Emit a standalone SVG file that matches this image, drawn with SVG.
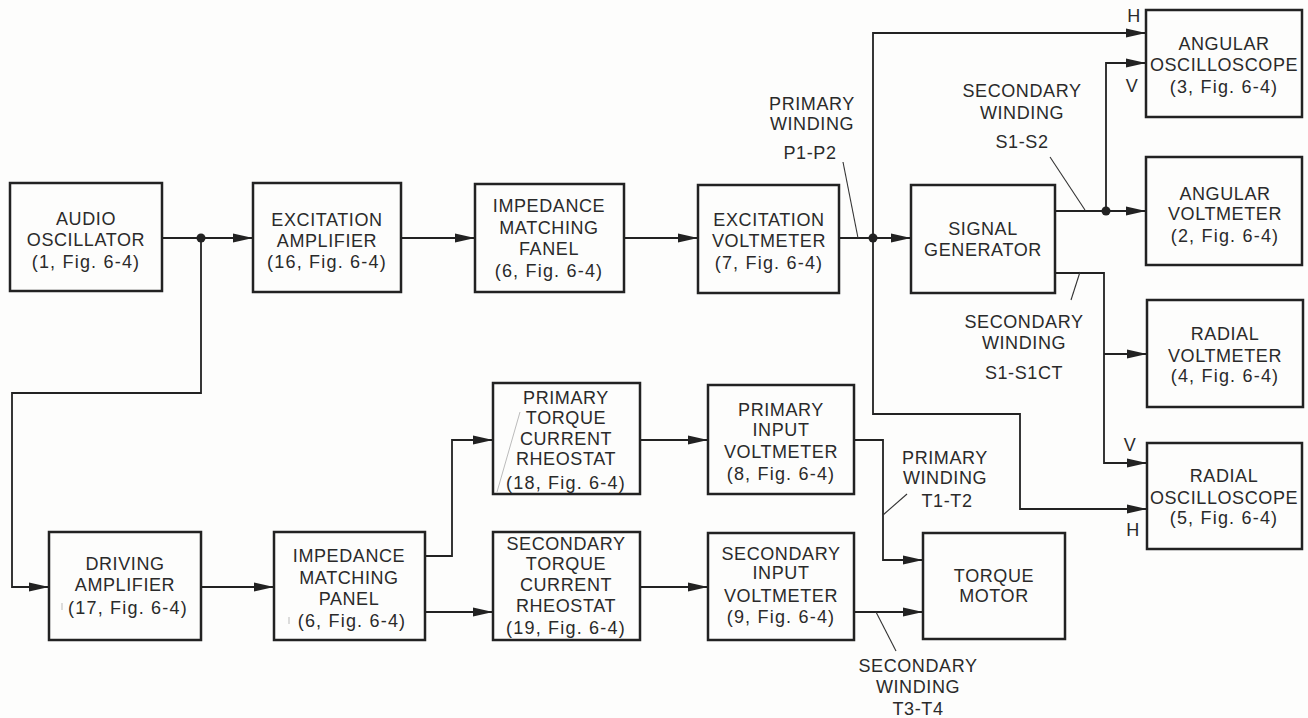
<svg xmlns="http://www.w3.org/2000/svg" width="1308" height="718" viewBox="0 0 1308 718">
<style>
.box{fill:none;stroke:#222;stroke-width:2.5}
.ln{fill:none;stroke:#222;stroke-width:1.8}
.ld{fill:none;stroke:#333;stroke-width:1.1}
.fa{fill:none;stroke:#bbb;stroke-width:1}
text{font-family:"Liberation Sans",Arial,sans-serif;font-size:18px;fill:#2a2a2a;text-anchor:middle;letter-spacing:0.6px}
text.p{letter-spacing:1.2px}
.dot{fill:#222}
</style>
<defs>
<marker id="ar" markerUnits="userSpaceOnUse" markerWidth="22" markerHeight="12" refX="20" refY="5" orient="auto">
<path d="M0,0.5 L20,5 L0,9.5 z" fill="#222"/>
</marker>
</defs>
<rect width="1308" height="718" fill="#fdfdfc"/>

<g id="connectors">
<path class="ln" d="M162,238 H253" marker-end="url(#ar)"/>
<path class="ln" d="M201,238 V393 H12 V587 H49" marker-end="url(#ar)"/>
<path class="ln" d="M401,238 H475" marker-end="url(#ar)"/>
<path class="ln" d="M624,238 H698" marker-end="url(#ar)"/>
<path class="ln" d="M839,238 H911" marker-end="url(#ar)"/>
<path class="ln" d="M873,238 V33 H1146" marker-end="url(#ar)"/>
<path class="ln" d="M873,238 V414 H1020 V509 H1147" marker-end="url(#ar)"/>
<path class="ln" d="M1055,211 H1146" marker-end="url(#ar)"/>
<path class="ln" d="M1106,211 V63 H1146" marker-end="url(#ar)"/>
<path class="ln" d="M1055,273 H1104 V463 H1147" marker-end="url(#ar)"/>
<path class="ln" d="M1104,354 H1147" marker-end="url(#ar)"/>
<path class="ln" d="M201,587 H274" marker-end="url(#ar)"/>
<path class="ln" d="M425,556 H452 V440 H493" marker-end="url(#ar)"/>
<path class="ln" d="M425,612 H493" marker-end="url(#ar)"/>
<path class="ln" d="M640,440 H708" marker-end="url(#ar)"/>
<path class="ln" d="M640,587 H708" marker-end="url(#ar)"/>
<path class="ln" d="M854,440 H883 V560 H923" marker-end="url(#ar)"/>
<path class="ln" d="M854,612 H923" marker-end="url(#ar)"/>
<circle class="dot" cx="201" cy="238" r="4.5"/>
<circle class="dot" cx="873" cy="238" r="4.5"/>
<circle class="dot" cx="1106" cy="211" r="4.5"/>
<path class="ld" d="M843,162 L858,238"/>
<path class="ld" d="M1050,157 L1085,210"/>
<path class="ld" d="M1071,300 L1080,272"/>
<path class="ld" d="M907,494 L883,515"/>
<path class="ld" d="M876,612 L896,651"/>
</g>

<g id="labels">
<text x="812" y="110">PRIMARY</text>
<text x="812" y="130">WINDING</text>
<text x="810" y="159">P1-P2</text>
<text x="1022" y="97">SECONDARY</text>
<text x="1022" y="119">WINDING</text>
<text x="1022" y="148">S1-S2</text>
<text x="1024" y="328">SECONDARY</text>
<text x="1024" y="349">WINDING</text>
<text x="1024" y="379">S1-S1CT</text>
<text x="945" y="464">PRIMARY</text>
<text x="945" y="484">WINDING</text>
<text x="947" y="507">T1-T2</text>
<text x="918" y="672">SECONDARY</text>
<text x="918" y="693">WINDING</text>
<text x="918" y="715">T3-T4</text>
<text x="1134" y="22">H</text>
<text x="1132" y="92">V</text>
<text x="1130" y="451">V</text>
<text x="1133" y="536">H</text>
</g>

<g id="audio-oscillator">
<rect class="box" x="10" y="183" width="152" height="108"/>
<text x="86" y="225">AUDIO</text>
<text x="86" y="246">OSCILLATOR</text>
<text class="p" x="86" y="268">(1, Fig. 6-4)</text>
</g>
<g id="excitation-amplifier">
<rect class="box" x="253" y="183" width="148" height="109"/>
<text x="327" y="226">EXCITATION</text>
<text x="327" y="247">AMPLIFIER</text>
<text class="p" x="327" y="268">(16, Fig. 6-4)</text>
</g>
<g id="impedance-matching-fanel">
<rect class="box" x="475" y="184" width="149" height="108"/>
<text x="549" y="212">IMPEDANCE</text>
<text x="549" y="234">MATCHING</text>
<text x="549" y="255">FANEL</text>
<text class="p" x="549" y="277">(6, Fig. 6-4)</text>
</g>
<g id="excitation-voltmeter">
<rect class="box" x="698" y="185" width="141" height="108"/>
<text x="769" y="226">EXCITATION</text>
<text x="769" y="247">VOLTMETER</text>
<text class="p" x="769" y="269">(7, Fig. 6-4)</text>
</g>
<g id="signal-generator">
<rect class="box" x="911" y="185" width="144" height="108"/>
<text x="983" y="235">SIGNAL</text>
<text x="983" y="256">GENERATOR</text>
</g>
<g id="angular-oscilloscope">
<rect class="box" x="1146" y="10" width="156" height="107"/>
<text x="1224" y="50">ANGULAR</text>
<text x="1224" y="71">OSCILLOSCOPE</text>
<text class="p" x="1224" y="93">(3, Fig. 6-4)</text>
</g>
<g id="angular-voltmeter">
<rect class="box" x="1146" y="157" width="156" height="108"/>
<text x="1225" y="200">ANGULAR</text>
<text x="1225" y="220">VOLTMETER</text>
<text class="p" x="1225" y="242">(2, Fig. 6-4)</text>
</g>
<g id="radial-voltmeter">
<rect class="box" x="1147" y="300" width="156" height="107"/>
<text x="1225" y="340">RADIAL</text>
<text x="1225" y="362">VOLTMETER</text>
<text class="p" x="1225" y="382">(4, Fig. 6-4)</text>
</g>
<g id="radial-oscilloscope">
<rect class="box" x="1147" y="443" width="155" height="106"/>
<text x="1224" y="482">RADIAL</text>
<text x="1224" y="504">OSCILLOSCOPE</text>
<text class="p" x="1224" y="524">(5, Fig. 6-4)</text>
</g>
<g id="driving-amplifier">
<rect class="box" x="49" y="532" width="152" height="108"/>
<text x="125" y="570">DRIVING</text>
<text x="125" y="591">AMPLIFIER</text>
<text class="p" x="128" y="614">(17, Fig. 6-4)</text>
<path class="fa" d="M62,603 V610" stroke="#888"/>
</g>
<g id="impedance-matching-panel">
<rect class="box" x="274" y="532" width="151" height="108"/>
<text x="349" y="562">IMPEDANCE</text>
<text x="349" y="584">MATCHING</text>
<text x="349" y="605">PANEL</text>
<text class="p" x="352" y="627">(6, Fig. 6-4)</text>
<path class="fa" d="M289,617 V624" stroke="#888"/>
</g>
<g id="primary-torque-current-rheostat">
<rect class="box" x="493" y="383" width="147" height="111"/>
<path class="fa" d="M520,412 L497,492"/>
<text x="566" y="404">PRIMARY</text>
<text x="566" y="424">TORQUE</text>
<text x="566" y="445">CURRENT</text>
<text x="566" y="465">RHEOSTAT</text>
<text class="p" x="566" y="489">(18, Fig. 6-4)</text>
</g>
<g id="secondary-torque-current-rheostat">
<rect class="box" x="493" y="532" width="147" height="108"/>
<text x="566" y="550">SECONDARY</text>
<text x="566" y="570">TORQUE</text>
<text x="566" y="591">CURRENT</text>
<text x="566" y="612">RHEOSTAT</text>
<text class="p" x="566" y="634">(19, Fig. 6-4)</text>
</g>
<g id="primary-input-voltmeter">
<rect class="box" x="708" y="385" width="146" height="109"/>
<text x="781" y="416">PRIMARY</text>
<text x="781" y="436">INPUT</text>
<text x="781" y="458">VOLTMETER</text>
<text class="p" x="781" y="480">(8, Fig. 6-4)</text>
</g>
<g id="secondary-input-voltmeter">
<rect class="box" x="708" y="533" width="146" height="107"/>
<text x="781" y="560">SECONDARY</text>
<text x="781" y="579">INPUT</text>
<text x="781" y="602">VOLTMETER</text>
<text class="p" x="781" y="623">(9, Fig. 6-4)</text>
</g>
<g id="torque-motor">
<rect class="box" x="923" y="533" width="142" height="106"/>
<text x="994" y="582">TORQUE</text>
<text x="994" y="602">MOTOR</text>
</g>
</svg>
